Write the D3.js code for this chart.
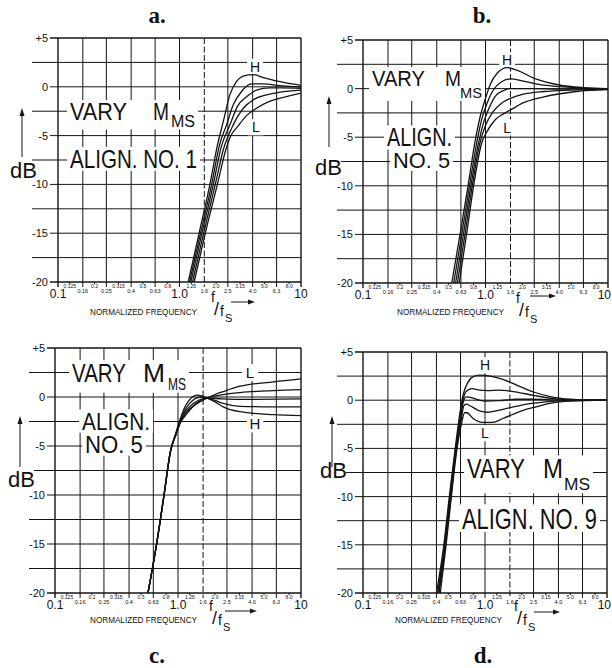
<!DOCTYPE html>
<html>
<head>
<meta charset="utf-8">
<script src="https://cdn.jsdelivr.net/npm/d3@7"></script>
<style>
  body { margin: 0; background: #fff; }
  svg { display: block; }
  text { font-family: "Liberation Sans", Arial, sans-serif; fill: #111; }
</style>
</head>
<body>
<script>
// ---- axis values ----
const freqMajor = [0.1, 0.16, 0.25, 0.4, 0.63, 1.0, 1.6, 2.5, 4.0, 6.3, 10];
const freqMajorLabels = ["0.1", "0.16", "0.25", "0.4", "0.63", "1.0", "1.6", "2.5", "4.0", "6.3", "10"];
const freqMinor = [0.125, 0.2, 0.315, 0.5, 0.8, 1.25, 2.0, 3.15, 5.0, 8.0];
const freqMinorLabels = ["0.125", "0.2", "0.315", "0.5", "0.8", "1.25", "2.0", "3.15", "5.0", "8.0"];
const dbGrid = [5, 2.5, 0, -2.5, -5, -7.5, -10, -12.5, -15, -17.5, -20];
const dbTickValues = [5, 0, -5, -10, -15, -20];
const dbTickLabels = ["+5", "0", "-5", "-10", "-15", "-20"];

// ---- curves, [f/fs, dB], ordered H ... L ----
const curvesA = [
  [[1.18,-20],[1.45,-15],[1.78,-10],[2.05,-6],[2.3,-3.5],[2.6,-0.8],[2.95,0.55],[3.45,1.15],[4.0,1.25],[4.9,0.95],[6.3,0.6],[8.0,0.35],[10,0.15]],
  [[1.21,-20],[1.49,-15],[1.84,-10],[2.13,-6],[2.44,-3.9],[2.77,-1.85],[3.24,-0.48],[3.9,0.3],[5.0,0.3],[6.3,0.15],[8.0,0.05],[10,0]],
  [[1.24,-20],[1.53,-15],[1.9,-10],[2.2,-6.2],[2.6,-3.9],[3.0,-2.0],[3.58,-1.0],[4.3,-0.35],[5.5,-0.1],[7.0,-0.1],[10,-0.15]],
  [[1.28,-20],[1.58,-15],[1.97,-10],[2.3,-6.4],[2.77,-3.9],[3.35,-2.2],[4.05,-1.33],[5.2,-0.82],[6.7,-0.55],[10,-0.35]],
  [[1.32,-20],[1.63,-15],[2.05,-10],[2.4,-6.5],[2.65,-5],[3.0,-4.1],[3.6,-2.9],[4.3,-2.2],[5.5,-1.5],[7.6,-1.0],[10,-0.65]]
];
const curvesB = [
  [[0.53,-20],[0.62,-15],[0.72,-10],[0.82,-5.5],[0.9,-3],[1.0,-1.0],[1.1,0.5],[1.25,1.6],[1.5,2.15],[1.8,1.9],[2.5,1.05],[4.0,0.37],[6.3,0.1],[10,0]],
  [[0.55,-20],[0.64,-15],[0.74,-10],[0.85,-5.5],[0.93,-3.2],[1.03,-1.5],[1.15,-0.2],[1.35,0.7],[1.6,1.0],[2.0,0.8],[2.8,0.4],[4.0,0.2],[6.3,0.05],[10,0]],
  [[0.57,-20],[0.66,-15],[0.76,-10],[0.88,-5.5],[0.97,-3.4],[1.07,-2.0],[1.2,-0.8],[1.4,-0.2],[1.6,0],[2.5,0],[4.0,-0.05],[10,-0.05]],
  [[0.59,-20],[0.68,-15],[0.78,-10],[0.9,-5.6],[1.0,-3.8],[1.15,-2.4],[1.35,-1.5],[1.6,-1.0],[2.0,-0.6],[3.0,-0.3],[5.0,-0.15],[10,-0.05]],
  [[0.61,-20],[0.70,-15],[0.80,-10],[0.93,-5.6],[1.03,-4.4],[1.2,-3.2],[1.4,-2.6],[1.6,-2.2],[2.0,-1.5],[3.0,-0.85],[5.5,-0.3],[10,-0.1]]
];
const curvesC = [
  [[0.57,-20],[0.67,-15],[0.77,-10],[0.87,-5.5],[0.96,-3.7],[1.04,-2.3],[1.15,-0.9],[1.28,-0.1],[1.42,0.2],[1.56,0.12],[1.71,-0.1],[2.0,-0.5],[2.33,-1.0],[3.2,-1.5],[6.0,-1.8],[10,-1.9]],
  [[0.57,-20],[0.67,-15],[0.77,-10],[0.87,-5.5],[0.96,-3.75],[1.04,-2.4],[1.16,-1.15],[1.3,-0.4],[1.45,-0.05],[1.6,0.0],[1.71,-0.1],[2.0,-0.35],[2.33,-0.65],[3.2,-0.95],[6.0,-1.0],[10,-1.0]],
  [[0.57,-20],[0.67,-15],[0.77,-10],[0.87,-5.5],[0.96,-3.8],[1.04,-2.5],[1.17,-1.35],[1.32,-0.7],[1.5,-0.3],[1.71,-0.1],[2.3,-0.2],[3.2,-0.25],[10,-0.2]],
  [[0.57,-20],[0.67,-15],[0.77,-10],[0.87,-5.5],[0.96,-3.85],[1.04,-2.6],[1.18,-1.5],[1.35,-0.9],[1.5,-0.5],[1.71,-0.1],[2.0,0.1],[2.33,0.25],[3.2,0.45],[6.0,0.65],[10,0.75]],
  [[0.57,-20],[0.67,-15],[0.77,-10],[0.87,-5.5],[0.96,-3.9],[1.04,-2.7],[1.18,-1.7],[1.41,-0.65],[1.71,-0.15],[2.0,0.25],[2.33,0.55],[3.2,1.1],[6.0,1.55],[10,1.85]]
];
const curvesD = [
  [[0.40,-20],[0.46,-15],[0.51,-10],[0.57,-5],[0.62,-1.5],[0.66,0.5],[0.72,1.8],[0.8,2.45],[0.9,2.6],[1.1,2.5],[1.4,2.15],[1.8,1.6],[2.5,0.85],[3.5,0.35],[5.0,0.1],[7.0,0.02],[10,0]],
  [[0.41,-20],[0.465,-15],[0.515,-10],[0.575,-5],[0.625,-1.8],[0.66,0],[0.7,0.9],[0.78,1.2],[0.9,1.05],[1.05,1.0],[1.3,1.05],[1.7,0.9],[2.5,0.5],[3.5,0.2],[5.0,0.05],[10,0]],
  [[0.415,-20],[0.47,-15],[0.52,-10],[0.58,-5],[0.63,-2.0],[0.66,-0.3],[0.7,0.35],[0.76,0.3],[0.9,0],[1.0,-0.1],[1.3,-0.05],[1.8,0.1],[2.5,0.1],[4.0,0.02],[10,0]],
  [[0.42,-20],[0.475,-15],[0.525,-10],[0.585,-5],[0.635,-2.2],[0.67,-0.6],[0.7,-0.4],[0.76,-0.6],[0.9,-1.1],[1.05,-1.25],[1.4,-0.95],[2.0,-0.5],[3.0,-0.2],[5.0,-0.05],[10,0]],
  [[0.43,-20],[0.48,-15],[0.53,-10],[0.59,-5],[0.64,-2.5],[0.68,-1.3],[0.71,-1.3],[0.8,-1.9],[0.95,-2.3],[1.15,-2.3],[1.4,-1.9],[2.0,-1.1],[2.5,-0.75],[3.5,-0.3],[5.0,-0.1],[10,0]]
];

// ---- annotation texts (placed in data coords: f = left edge or centre, db = cap centre) ----
const notesA = [
  {g: 1, t: "VARY", f: 0.1256, db: -2.51, size: 23, w: 57},
  {g: 1, t: "M", f: 0.605, db: -2.51, size: 23, w: 16},
  {g: 1, t: "MS", f: 0.851, db: -3.48, size: 16, w: 24},
  {g: 2, t: "ALIGN. NO. 1", f: 0.1256, db: -7.38, size: 25, w: 127},
  {g: 3, t: "H", f: 4.18, db: 2.05, size: 14, mid: true},
  {g: 4, t: "L", f: 4.25, db: -4.15, size: 14, mid: true}
];
const notesB = [
  {g: 1, t: "VARY", f: 0.1184, db: 1.09, size: 22, w: 53},
  {g: 1, t: "M", f: 0.467, db: 1.09, size: 22, w: 16},
  {g: 1, t: "MS", f: 0.619, db: -0.4, size: 15, w: 22},
  {g: 2, t: "ALIGN.", f: 0.157, db: -5.03, size: 25, w: 65},
  {g: 3, t: "NO. 5", f: 0.176, db: -7.35, size: 22, w: 57},
  {g: 4, t: "H", f: 1.50, db: 2.94, size: 14, mid: true},
  {g: 5, t: "L", f: 1.50, db: -4.0, size: 14, mid: true}
];
const notesC = [
  {g: 1, t: "VARY", f: 0.1375, db: 2.5, size: 26, w: 54},
  {g: 1, t: "M", f: 0.519, db: 2.5, size: 26, w: 22},
  {g: 1, t: "MS", f: 0.829, db: 1.33, size: 16, w: 18},
  {g: 2, t: "L", f: 3.85, db: 2.5, size: 15, mid: true},
  {g: 3, t: "H", f: 4.23, db: -2.76, size: 15, mid: true},
  {g: 4, t: "ALIGN.", f: 0.166, db: -2.45, size: 24, w: 68},
  {g: 5, t: "NO. 5", f: 0.175, db: -4.8, size: 24, w: 58}
];
const notesD = [
  {g: 1, t: "H", f: 1.0, db: 3.63, size: 14, mid: true},
  {g: 2, t: "L", f: 1.0, db: -3.42, size: 14, mid: true},
  {g: 3, t: "VARY", f: 0.712, db: -7.05, size: 27, w: 58},
  {g: 3, t: "M", f: 2.99, db: -7.05, size: 27, w: 20},
  {g: 3, t: "MS", f: 4.44, db: -8.71, size: 17, w: 26},
  {g: 4, t: "ALIGN. NO. 9", f: 0.648, db: -12.24, size: 30, w: 135}
];

// ---- panel layout ----
const panels = [
  {id: "a", title: "a.", tx: 157, ty: 23, left: 58, top: 38, width: 243, height: 244,
   curves: curvesA, notes: notesA, dbX: -48, dbY: 140, arX: -36, arY: [74, 119],
   nfX: 32, nfY: 33, ffX: 153, ffY: 20, aw: [20, 44, 0]},
  {id: "b", title: "b.", tx: 482, ty: 23, left: 363, top: 40, width: 245, height: 243,
   curves: curvesB, notes: notesB, dbX: -48, dbY: 135, arX: -34, arY: [60, 107],
   nfX: 34, nfY: 32, ffX: 153, ffY: 20, aw: [14, 40, -7]},
  {id: "c", title: "c.", tx: 157, ty: 663, left: 55, top: 348, width: 246, height: 245,
   curves: curvesC, notes: notesC, dbX: -47, dbY: 139, arX: -35, arY: [72, 119],
   nfX: 35, nfY: 30, ffX: 154, ffY: 18, aw: [16, 48, 0]},
  {id: "d", title: "d.", tx: 483, ty: 663, left: 363, top: 352, width: 244, height: 241,
   curves: curvesD, notes: notesD, dbX: -43, dbY: 126, arX: -31, arY: [68, 115],
   nfX: 32, nfY: 30, ffX: 151, ffY: 18, aw: [20, 46, 1]}
];

const ink = "#141414";
const pageWidth = 612;

const svg = d3.select("body").append("svg")
    .attr("width", pageWidth)
    .attr("height", 668);
svg.append("rect").attr("width", "100%").attr("height", "100%").attr("fill", "#fff");

function drawPanel(p) {
    const g = svg.append("g").attr("class", "panel-" + p.id);
    const right = p.left + p.width;
    const bottom = p.top + p.height;
    const x = d3.scaleLog().domain([0.1, 10]).range([p.left, right]);
    const y = d3.scaleLinear().domain([-20, 5]).range([bottom, p.top]);

    //title
    g.append("text")
        .attr("x", p.tx).attr("y", p.ty)
        .attr("text-anchor", "middle")
        .style("font-family", "'Liberation Serif', serif")
        .attr("font-weight", "bold")
        .attr("font-size", 23)
        .text(p.title);

    //horizontal grid, minor lines run out further to the left
    dbGrid.forEach(function(v) {
        const major = dbTickValues.includes(v);
        g.append("line")
            .attr("x1", p.left - (major ? 8 : 26)).attr("x2", right)
            .attr("y1", y(v)).attr("y2", y(v))
            .attr("stroke", ink)
            .attr("stroke-width", (v === 5 || v === -20) ? 1.4 : 1);
    });
    dbTickValues.forEach(function(v, i) {
        g.append("text")
            .attr("x", p.left - 10).attr("y", y(v) + 4)
            .attr("text-anchor", "end")
            .attr("font-size", 11)
            .text(dbTickLabels[i]);
    });

    //vertical grid
    freqMajor.forEach(function(f, i) {
        const edge = (i === 0 || i === freqMajor.length - 1);
        g.append("line")
            .attr("x1", x(f)).attr("x2", x(f))
            .attr("y1", p.top).attr("y2", bottom + 5)
            .attr("stroke", ink)
            .attr("stroke-width", edge ? 1.4 : 1)
            .attr("stroke-dasharray", f === 1.6 ? "6,2.5" : null);
        const big = (f === 0.1 || f === 1.0 || f === 10);
        const lab = g.append("text")
            .attr("x", x(f)).attr("y", bottom + (big ? 15.5 : 11))
            .attr("text-anchor", "middle")
            .attr("font-size", big ? 12 : 5.5)
            .text(freqMajorLabels[i]);
        if (x(f) + 7 > pageWidth) lab.attr("x", pageWidth - 1).attr("text-anchor", "end");
    });
    freqMinor.forEach(function(f, i) {
        g.append("line")
            .attr("x1", x(f)).attr("x2", x(f))
            .attr("y1", bottom).attr("y2", bottom + 2)
            .attr("stroke", ink);
        g.append("text")
            .attr("x", x(f)).attr("y", bottom + 6)
            .attr("text-anchor", "middle")
            .attr("font-size", 5)
            .text(freqMinorLabels[i]);
    });

    //annotation knock-out boxes, one per group
    const pad = 3;
    const boxes = d3.rollups(p.notes, function(items) {
        let x0 = Infinity, x1 = -Infinity, y0 = Infinity, y1 = -Infinity;
        items.forEach(function(n) {
            const w = n.w || n.size * 0.7;
            const lx = n.mid ? x(n.f) - w / 2 : x(n.f);
            const cy = y(n.db);
            x0 = Math.min(x0, lx); x1 = Math.max(x1, lx + w);
            y0 = Math.min(y0, cy - 0.36 * n.size); y1 = Math.max(y1, cy + 0.36 * n.size);
        });
        return [x0 - pad, y0 - pad, x1 + pad, y1 + pad];
    }, function(n) { return n.g; });
    boxes.forEach(function(b) {
        const r = b[1];
        g.append("rect")
            .attr("x", r[0]).attr("y", r[1])
            .attr("width", r[2] - r[0]).attr("height", r[3] - r[1])
            .attr("fill", "#fff");
    });
    //lettering is narrower than the font, so squeeze each word horizontally
    p.notes.forEach(function(n) {
        const t = g.append("text")
            .attr("font-size", n.size)
            .attr("text-anchor", n.mid ? "middle" : "start")
            .text(n.t);
        const sx = n.w ? n.w / t.node().getComputedTextLength() : 1;
        t.attr("transform", `translate(${x(n.f)},${y(n.db) + 0.36 * n.size}) scale(${sx},1)`);
    });

    //curves
    g.append("clipPath").attr("id", "clip-" + p.id)
        .append("rect")
        .attr("x", p.left).attr("y", p.top - 2)
        .attr("width", p.width).attr("height", p.height + 2);
    const line = d3.line()
        .x(function(d) { return x(d[0]); })
        .y(function(d) { return y(d[1]); })
        .curve(d3.curveMonotoneX);
    p.curves.forEach(function(c) {
        g.append("path")
            .datum(c)
            .attr("clip-path", "url(#clip-" + p.id + ")")
            .attr("fill", "none")
            .attr("stroke", ink)
            .attr("stroke-width", 1.3)
            .attr("d", line);
    });

    //dB label with arrow
    g.append("rect")
        .attr("x", p.left + p.dbX - 1).attr("y", p.top + p.dbY - 17)
        .attr("width", 27).attr("height", 19)
        .attr("fill", "#fff");
    g.append("text")
        .attr("x", p.left + p.dbX).attr("y", p.top + p.dbY)
        .attr("font-size", 22)
        .text("dB");
    const ax = p.left + p.arX;
    g.append("line")
        .attr("x1", ax).attr("x2", ax)
        .attr("y1", p.top + p.arY[0]).attr("y2", p.top + p.arY[1])
        .attr("stroke", ink).attr("stroke-width", 1);
    g.append("path")
        .attr("d", `M${ax},${p.top + p.arY[0] - 4} l-2.5,8 l5,0 z`)
        .attr("fill", ink);

    //x-axis title
    g.append("text")
        .attr("x", p.left + p.nfX).attr("y", bottom + p.nfY)
        .attr("font-size", 8.5)
        .attr("textLength", 107).attr("lengthAdjust", "spacingAndGlyphs")
        .text("NORMALIZED FREQUENCY");
    const fx = p.left + p.ffX, fy = bottom + p.ffY;
    g.append("text").attr("x", fx).attr("y", fy).attr("font-size", 14).text("f");
    g.append("text").attr("x", fx + 3).attr("y", fy + 13).attr("font-size", 18).text("/");
    g.append("text").attr("x", fx + 9).attr("y", fy + 14).attr("font-size", 14).text("f");
    g.append("text").attr("x", fx + 14).attr("y", fy + 20).attr("font-size", 11).text("S");
    const ay = fy + p.aw[2];
    g.append("line")
        .attr("x1", fx + p.aw[0]).attr("x2", fx + p.aw[1] - 5)
        .attr("y1", ay).attr("y2", ay)
        .attr("stroke", ink).attr("stroke-width", 1);
    g.append("path")
        .attr("d", `M${fx + p.aw[1]},${ay} l-7,-2.5 l0,5 z`)
        .attr("fill", ink);
}

panels.forEach(drawPanel);
</script>
</body>
</html>
